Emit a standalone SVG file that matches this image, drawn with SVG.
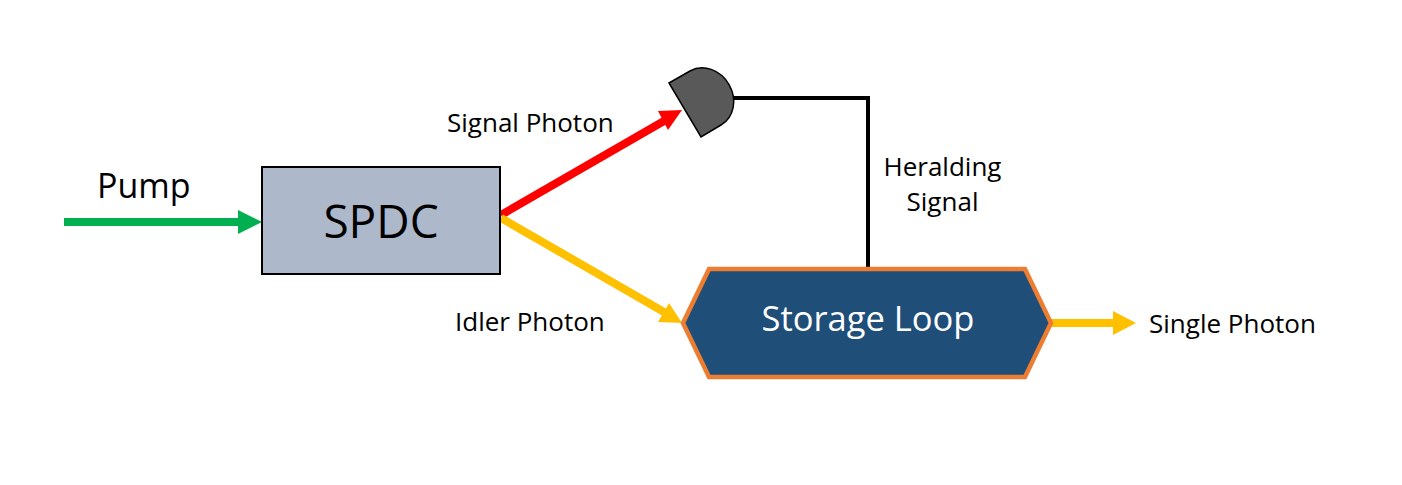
<svg xmlns="http://www.w3.org/2000/svg" width="1402" height="485" viewBox="0 0 1402 485">
<style>
text{font-family:"Open Sans","Noto Sans","Liberation Sans",sans-serif;fill:#000}
.lbl{font-size:26px}
.mid{text-anchor:middle}
.wire{fill:none;stroke-width:8}
</style>
<rect width="1402" height="485" fill="#fff"/>
<g id="connectors">
<g id="pump-arrow"><path class="wire" stroke="#00b050" d="M64 222H239"/><path fill="#00b050" d="M238 210L262 222L238 234Z"/></g>
<g id="signal-arrow"><path class="wire" stroke="#f00" d="M501 215L664 121"/><path fill="#f00" d="M682 110L668 130L658 111Z"/></g>
<g id="idler-arrow"><path class="wire" stroke="#ffc000" d="M501 218L664 312"/><path fill="#ffc000" d="M682 323L658 322L669 303Z"/></g>
<g id="output-arrow"><path class="wire" stroke="#ffc000" d="M1050 323H1114"/><path fill="#ffc000" d="M1113 311L1136 323L1113 335Z"/></g>
<path id="herald-line" fill="none" stroke="#000" stroke-width="4" d="M733 98H868V269"/>
</g>
<g id="spdc"><rect x="262" y="167" width="238" height="107" fill="#adb9ca" stroke="#000" stroke-width="2"/><text x="381" y="238" class="mid" font-size="46">SPDC</text></g>
<g id="detector"><path d="M669 83L690 71A27 31 -30 0 1 721 125L701 137Z" fill="#595959" stroke="#000" stroke-width="1.5"/></g>
<g id="storage-loop"><path d="M683 323L709 269H1025L1051 323L1025 377H709Z" fill="#1f4e79" stroke="#ed7d31" stroke-width="4.5"/><text x="868" y="331" class="mid" font-size="34.5" style="fill:#fff">Storage Loop</text></g>
<g id="labels">
<text x="97" y="198" font-size="34">Pump</text>
<text x="447" y="132" class="lbl">Signal Photon</text>
<text x="455" y="331" class="lbl">Idler Photon</text>
<text x="942.5" y="176" class="lbl mid">Heralding</text>
<text x="942.5" y="211" class="lbl mid">Signal</text>
<text x="1149" y="333" class="lbl">Single Photon</text>
</g>
</svg>
